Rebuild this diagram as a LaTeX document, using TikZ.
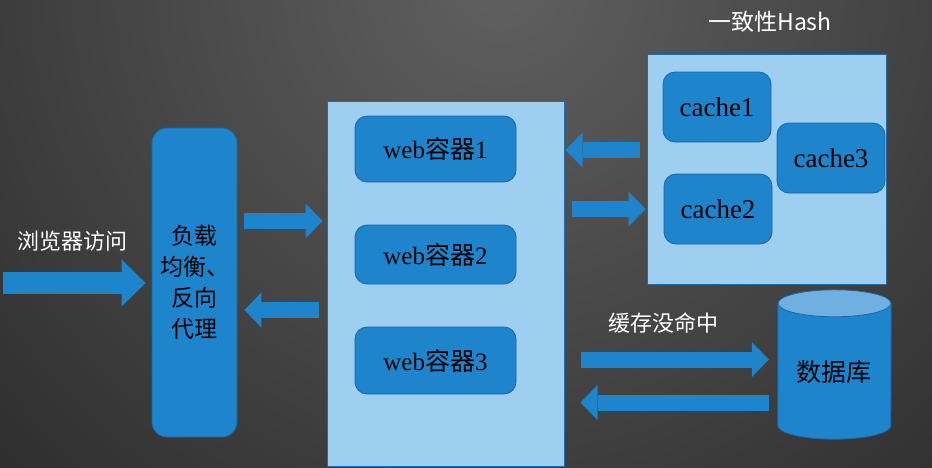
\documentclass[tikz,border=0pt]{standalone}
\usepackage{fontspec}
\setmainfont{Liberation Serif}
\newfontfamily\cjk{Noto Sans CJK SC}
\usepackage{tikz}
\usetikzlibrary{calc,arrows.meta,positioning}

\definecolor{bgin}{RGB}{96,96,96}
\definecolor{bgout}{RGB}{42,42,42}
\definecolor{boxblue}{RGB}{30,132,204}
\definecolor{boxline}{RGB}{28,102,162}
\definecolor{panel}{RGB}{158,207,240}
\definecolor{panelline}{RGB}{30,108,172}
\definecolor{dbtop}{RGB}{112,176,224}

\begin{document}
\begin{tikzpicture}[
  x=1pt, y=-1pt,
  panelbox/.style={rectangle,draw=panelline,fill=panel,line width=1pt,inner sep=0pt},
  unit/.style={rectangle,rounded corners=12pt,draw=boxline,fill=boxblue,line width=0.8pt,
    inner sep=0pt,font=\fontsize{25}{28}\selectfont},
  lbbox/.style={unit,rounded corners=15pt,align=center,font=\fontsize{23}{31}\selectfont\cjk},
  blk/.style={boxblue,line width=16pt,-{Triangle[length=17pt,width=35pt,line width=0pt]}},
  bigblk/.style={boxblue,line width=22pt,-{Triangle[length=24pt,width=47pt,line width=0pt]}},
  lab/.style={text=white,font=\fontsize{22}{26}\selectfont\cjk,inner sep=0pt}
]
% background
\begin{scope}
  \clip (0,0) rectangle (932,467);
  \shade[inner color=bgin, outer color=bgout] (500,-20) circle (760);
\end{scope}
\useasboundingbox (0,0) rectangle (932,467);

% load balancer
\node[lbbox,minimum width=85pt,minimum height=309pt] (lb) at (194.5,282.5)
  {负载\\均衡、\\反向\\代理};

% web containers
\node[panelbox,minimum width=237pt,minimum height=365pt] (web) at (445.5,283.5) {};
\node[unit,minimum width=161pt,minimum height=66pt] (web1) at (435.5,149) {web{\cjk 容器}1};
\node[unit,minimum width=161pt,minimum height=59pt] (web2) at (435.5,254.5) {web{\cjk 容器}2};
\node[unit,minimum width=161pt,minimum height=67pt] (web3) at (435.5,360.5) {web{\cjk 容器}3};

% consistent hash caches
\node[panelbox,minimum width=239pt,minimum height=230pt] (hash) at (766.5,169) {};
\node[lab,font=\fontsize{23}{27}\selectfont\cjk] (hashlab) at (770,22) {一致性Hash};
\node[unit,minimum width=108pt,minimum height=70pt,font=\fontsize{27}{30}\selectfont] (cache1) at (717,107) {cache1};
\node[unit,minimum width=108pt,minimum height=70pt,font=\fontsize{27}{30}\selectfont] (cache2) at (718,209) {cache2};
\node[unit,minimum width=108pt,minimum height=70pt,font=\fontsize{27}{30}\selectfont] (cache3) at (831,158) {cache3};

% database
\node[minimum width=113pt,minimum height=149pt,inner sep=0pt] (db) at (834.5,364.5) {};
\path[fill=boxblue,draw=boxline,line width=0.8pt]
  ([yshift=-13.5pt]db.north west) -- ([yshift=13.5pt]db.south west)
  arc[start angle=180,end angle=360,x radius=56.5pt,y radius=13.5pt]
  -- ([yshift=-13.5pt]db.north east) -- cycle;
\path[fill=dbtop,draw=boxline,line width=0.8pt]
  ([yshift=-13.5pt]db.north) ellipse[x radius=56.5pt,y radius=13.5pt];
\node[font=\fontsize{25}{28}\selectfont\cjk] (dblab) at ($(db.center)+(-1,7.5)$) {数据库};

% labels
\node[lab] (browser) at (72,241) {浏览器访问};
\node[lab] (miss) at (663,323) {缓存没命中};

% arrows
\coordinate (user) at (3,283);
\draw[bigblk] (user) -- ($(lb.west)+(-6,0.5)$);
\draw[blk] ($(lb.east)+(7,-61.5)$) -- ($(web.west)+(-4,-62.5)$);
\draw[blk] ($(web.west)+(-8,26.5)$) -- ($(lb.east)+(7,27.5)$);
\draw[blk] ($(hash.west)+(-7,-19)$) -- ($(web.east)+(1,-133.5)$);
\draw[blk] ($(web.east)+(7,-74.5)$) -- ($(hash.west)+(-1,40)$);
\draw[blk] ($(web.east)+(16,76)$) -- ($(db.west)+(-9,-5)$);
\draw[blk] ($(db.west)+(-9,38)$) -- ($(web.east)+(16,119)$);
\end{tikzpicture}
\end{document}
